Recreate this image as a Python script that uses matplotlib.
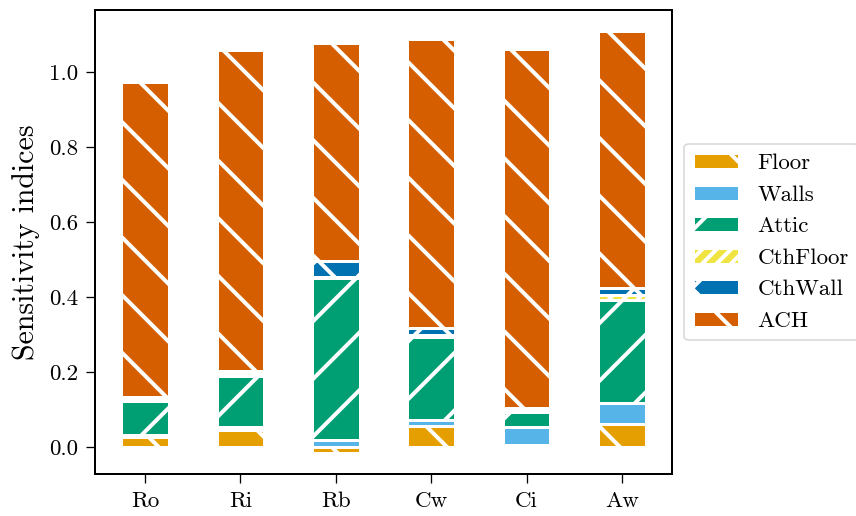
import numpy as np
import matplotlib
matplotlib.use("Agg")
import matplotlib.pyplot as plt

DPI = 173
def pt(px):
    return px * 72.0 / DPI

categories = ["Ro", "Ri", "Rb", "Cw", "Ci", "Aw"]
series_names = ["Floor", "Walls", "Attic", "CthFloor", "CthWall", "ACH"]
floor    = [0.027, 0.045, -0.016, 0.055, 0.004, 0.060]
walls    = [0.005, 0.007, 0.018, 0.018, 0.050, 0.058]
attic    = [0.090, 0.136, 0.433, 0.221, 0.040, 0.275]
cthfloor = [0.005, 0.007, 0.002, 0.005, 0.004, 0.013]
cthwall  = [0.007, 0.008, 0.043, 0.018, 0.005, 0.018]
ach      = [0.840, 0.855, 0.580, 0.770, 0.958, 0.685]
yticks = [0.0, 0.2, 0.4, 0.6, 0.8, 1.0]

colors = ["#E69F00", "#56B4E9", "#009E73", "#F0E442", "#0072B2", "#D55E00"]
hatches = ["\\", "", "/", "////", "x", "\\"]

plt.rcParams["font.family"] = ["cmr10", "DejaVu Serif"]
plt.rcParams["mathtext.fontset"] = "cm"
plt.rcParams["axes.formatter.use_mathtext"] = True
plt.rcParams["hatch.linewidth"] = pt(4)
plt.rcParams["hatch.color"] = "white"
FS = pt(23)

fig = plt.figure(figsize=(857 / DPI, 516 / DPI), dpi=DPI)
ax = fig.add_axes([95 / 857, 42 / 516, 577 / 857, 464 / 516])

data = [floor, walls, attic, cthfloor, cthwall, ach]
x = np.arange(len(categories))
pos_bottom = np.zeros(len(categories))
neg_bottom = np.zeros(len(categories))
for name, vals, c, h in zip(series_names, data, colors, hatches):
    vals = np.array(vals)
    bottom = np.where(vals >= 0, pos_bottom, neg_bottom)
    ax.bar(x, vals, width=0.5, bottom=bottom, color=c, edgecolor="white",
           linewidth=pt(3), hatch=h, label=name)
    pos_bottom += np.where(vals >= 0, vals, 0)
    neg_bottom += np.where(vals < 0, vals, 0)

ax.set_xticks(x)
ax.set_xticklabels(categories)
ax.set_yticks(yticks)
ax.set_yticklabels([f"{v:.1f}" for v in yticks])
ax.set_ylabel("Sensitivity indices", fontsize=FS * 1.3, labelpad=pt(9))
ax.tick_params(labelsize=FS, length=pt(9), width=pt(1.3), pad=pt(8))
for s in ax.spines.values():
    s.set_linewidth(pt(2))

leg = ax.legend(loc="center left", bbox_to_anchor=(1.021, 0.5), borderaxespad=0,
                fontsize=FS, frameon=True, fancybox=True, edgecolor="0.8")
leg.get_frame().set_linewidth(pt(1.5))

fig.savefig("out.png", dpi=DPI)
